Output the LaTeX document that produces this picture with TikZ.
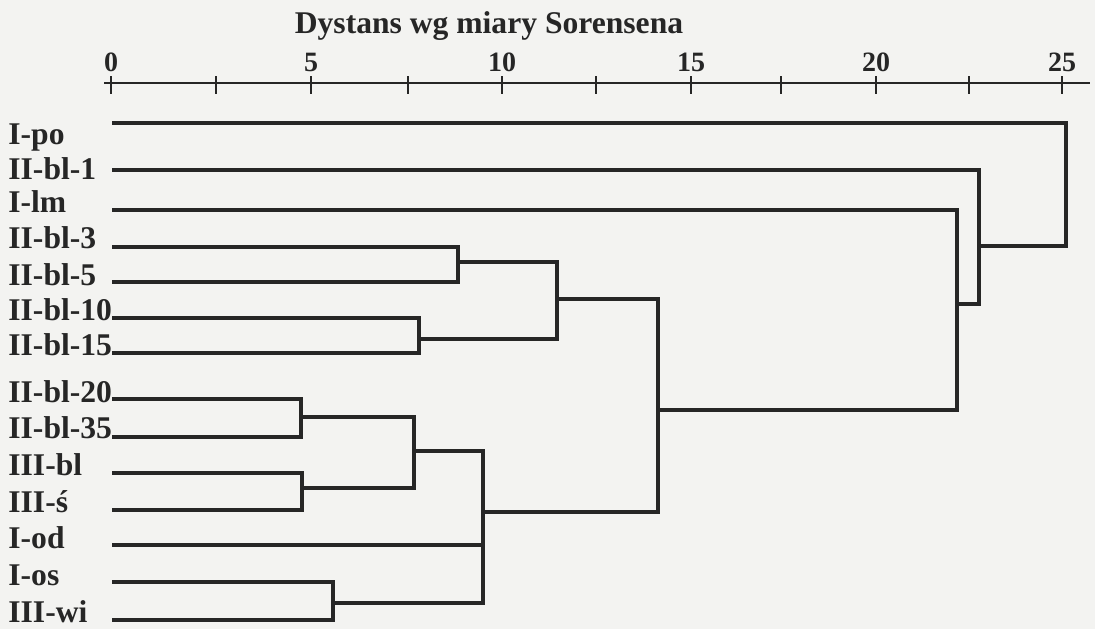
\documentclass[tikz,border=0pt]{standalone}
\usepackage{fontspec}
\setmainfont{Liberation Serif}
\usepackage{xcolor}
\usepackage{tikz}
\usetikzlibrary{positioning}
\definecolor{scanbg}{HTML}{F3F3F1}
\definecolor{inkgray}{HTML}{262626}

\begin{document}
\begin{tikzpicture}[
    x=0.5pt, y=-0.5pt,
    leaf/.style={anchor=base west, inner sep=0pt, text=inkgray,
                 font=\fontsize{15.8}{18}\selectfont\bfseries},
    titlelabel/.style={anchor=base, inner sep=0pt, text=inkgray,
                 font=\fontsize{15.8}{18}\selectfont\bfseries},
    ticklabel/.style={anchor=base, inner sep=0pt, text=inkgray,
                 font=\fontsize{14}{16}\selectfont\bfseries},
    branch/.style={draw=inkgray, line width=1.6pt},
    axisline/.style={draw=inkgray, line width=0.9pt},
]
    \fill[scanbg] (0,0) rectangle (1095,629);
    \useasboundingbox (0,0) rectangle (1095,629);

    % axis
    \node[titlelabel] (title) at (489,33) {Dystans wg miary Sorensena};
    \coordinate (ax0) at (104,83);
    \coordinate (ax1) at (1090,83);
    \draw[axisline] (ax0) -- (ax1);
    \foreach \tx in {216,408,596,781,969}
        \draw[axisline] (\tx,76) -- (\tx,94);
    \foreach \tx/\val in {111/0,311/5,502/10,691/15,876/20,1062/25} {
        \draw[axisline] (\tx,76) -- (\tx,94);
        \node[ticklabel] (t\val) at (\tx,71) {\val};
    }

    % leaves
    \foreach \n/\txt/\ly/\y in {1/I-po/144/123, 2/II-bl-1/179/170, 3/I-lm/212/210,
            4/II-bl-3/248/247, 5/II-bl-5/285/282, 6/II-bl-10/320/318,
            7/II-bl-15/355/353, 8/II-bl-20/402/399, 9/II-bl-35/438/437,
            10/III-bl/475/473, 11/III-ś/512/510, 12/I-od/548/545,
            13/I-os/585/582, 14/III-wi/622/620} {
        \node[leaf] (l\n) at (8,\ly) {\txt};
        \coordinate (s\n) at (112,\y);
    }

    % merges
    \coordinate (m1) at (458,262);
    \coordinate (m2) at (419,339);
    \coordinate (m3) at (557,299);
    \coordinate (m4) at (301,417);
    \coordinate (m5) at (302,488);
    \coordinate (m6) at (414,451);
    \coordinate (m7) at (333,603);
    \coordinate (m8) at (483,512);
    \coordinate (m9) at (658,410);
    \coordinate (m10) at (957,304);
    \coordinate (m11) at (979,246);
    \coordinate (m12) at (1066,185);

    \draw[branch] (s4) -| (m1) |- (s5);
    \draw[branch] (s6) -| (m2) |- (s7);
    \draw[branch] (m1) -| (m3) |- (m2);
    \draw[branch] (s8) -| (m4) |- (s9);
    \draw[branch] (s10) -| (m5) |- (s11);
    \draw[branch] (m4) -| (m6) |- (m5);
    \draw[branch] (s13) -| (m7) |- (s14);
    \draw[branch] (m6) -| (m8) |- (m7);
    \draw[branch] (s12) -| (m8);
    \draw[branch] (m3) -| (m9) |- (m8);
    \draw[branch] (s3) -| (m10) |- (m9);
    \draw[branch] (s2) -| (m11) |- (m10);
    \draw[branch] (s1) -| (m12) |- (m11);
\end{tikzpicture}
\end{document}
